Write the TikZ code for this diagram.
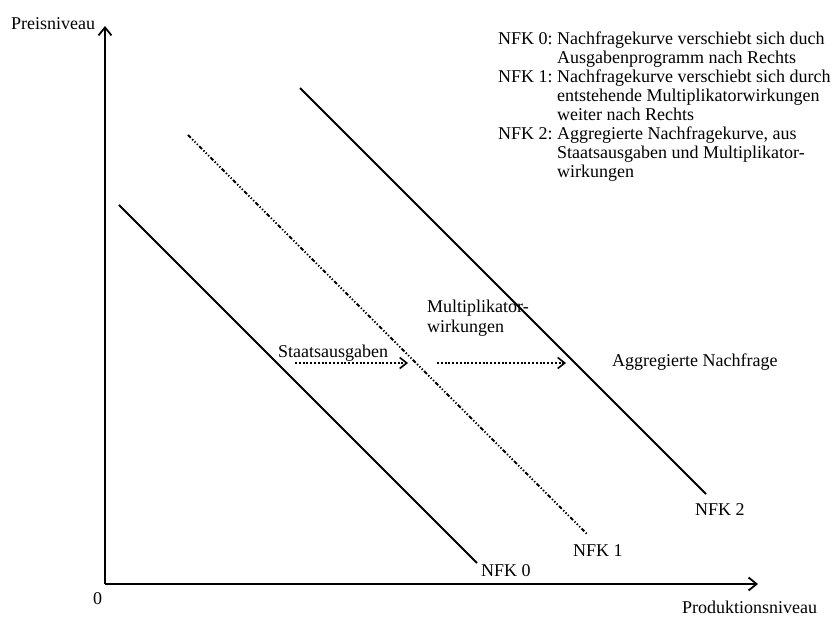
\documentclass[tikz,border=0pt]{standalone}
\usepackage{fontspec}
\setmainfont{Liberation Serif}
\usetikzlibrary{arrows.meta}
\begin{document}
\begin{tikzpicture}[x=1pt,y=-1pt,
  lbl/.style={inner sep=0pt,anchor=base west,font=\fontsize{18}{19}\selectfont},
  axis/.style={line width=1.8pt,-{Straight Barb[length=8pt,width=13pt,line width=1.8pt]}},
  curve/.style={line width=1.8pt},
  dcurve/.style={line width=1.8pt,dash pattern=on 4pt off 2pt on 1.3pt off 2pt on 1.3pt off 2pt on 1.3pt off 2pt},
  shiftarrow/.style={line width=1.6pt,dash pattern=on 2pt off 1.8pt,-{Straight Barb[length=7pt,width=11pt,line width=1.6pt]}}]
\useasboundingbox (0,0) rectangle (832,617);
\coordinate (O) at (105,584);
\coordinate (ytop) at (105,26);
\coordinate (xend) at (758,584);
\draw[axis] (O) -- (ytop);
\draw[axis] (O) -- (xend);
\node[lbl] (ylab) at (11,30) {Preisniveau};
\node[lbl] (zero) at (93,604) {0};
\node[lbl] (xlab) at (682,613) {Produktionsniveau};
% curves
\coordinate (a0) at (119,205); \coordinate (b0) at (477,563);
\coordinate (a1) at (188,135); \coordinate (b1) at (587,534);
\coordinate (a2) at (300,88);  \coordinate (b2) at (706,494);
\draw[curve] (a0) -- (b0);
\draw[dcurve] (a1) -- (b1);
\draw[curve] (a2) -- (b2);
\node[lbl] (n0) at (481,576) {NFK 0};
\node[lbl] (n1) at (573,556) {NFK 1};
\node[lbl] (n2) at (695,515) {NFK 2};
% shift arrows
\coordinate (s1) at (295,363); \coordinate (e1) at (408,363);
\coordinate (s2) at (437,363); \coordinate (e2) at (566,363);
\draw[shiftarrow] (s1) -- (e1);
\draw[shiftarrow] (s2) -- (e2);
\node[lbl] (staat) at (278,357) {Staatsausgaben};
\node[lbl,align=left] (multi) at (427,332) {Multiplikator-\\wirkungen};
\node[lbl] (agg) at (612,366) {Aggregierte Nachfrage};
% legend
\node[lbl] (legend) at (498,45) {%
\begin{tabular}[t]{@{}p{59pt}@{}l@{}}
NFK 0: & Nachfragekurve verschiebt sich duch\\
       & Ausgabenprogramm nach Rechts\\
NFK 1: & Nachfragekurve verschiebt sich durch\\
       & entstehende Multiplikatorwirkungen\\
       & weiter nach Rechts\\
NFK 2: & Aggregierte Nachfragekurve, aus\\
       & Staatsausgaben und Multiplikator-\\
       & wirkungen
\end{tabular}};
\end{tikzpicture}
\end{document}
